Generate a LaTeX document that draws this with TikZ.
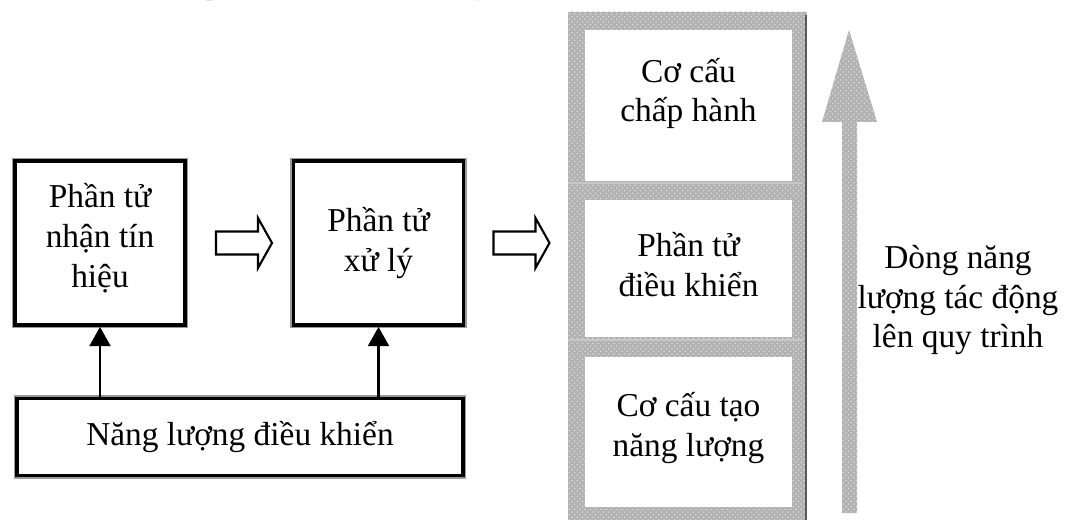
\documentclass[tikz,border=0pt]{standalone}
\usepackage{fontspec}
\setmainfont{Liberation Serif}
\usetikzlibrary{arrows.meta,positioning,calc,patterns}
\tikzset{
  blk/.style={draw=black,line width=2.2pt,preaction={draw=black!40,line width=3.6pt},
              fill=white,minimum width=3.4cm,inner sep=0pt,align=center},
  panel/.style={fill=white,draw=none,minimum width=4.14cm,inner sep=0pt},
  lbl/.style={align=center,inner sep=0pt},
  hatch/.style={fill=black!30,postaction={pattern=crosshatch dots,pattern color=white!85!black}},
  feed/.style={-{Triangle[length=11pt,width=12pt]},line width=1.2pt},
  hollow/.style={draw=black,line width=1.2pt,fill=white,line join=miter},
  sep/.style={draw=black!22,line width=1.2pt},
}

\begin{document}
\begin{tikzpicture}[x=0.02cm,y=-0.02cm,font=\fontsize{19}{22.7}\selectfont]
  \useasboundingbox (0,0) rectangle (1091,520);
  \clip (0,0) rectangle (1091,520);
  % cut-off caption line above the figure
  \node[anchor=base west,inner sep=0pt] (cap) at (20,-6)
    {\itshape c. Cơ cấu chấp hành: xilanh, động cơ dầu.};
  % left chain
  \node[blk,minimum height=3.28cm] (sens) at (100,243) {};
  \node[lbl] at (100,238) {Phần tử\\ nhận tín\\ hiệu};
  \node[blk,minimum height=3.28cm] (proc) at (378.5,243) {Phần tử\\ xử lý};
  \node[blk,minimum width=8.92cm,minimum height=1.54cm] (ctrl) at (240,437)
    {Năng lượng điều khiển};
  \foreach \b in {sens,proc}
    \draw[feed] (ctrl.north -| \b.south) -- (\b.south);
  \foreach \c in {244,521.5}{
    \begin{scope}[shift={(\c,243)}]
      \draw[hollow] (-28,-11.5) -- (14,-11.5) -- (14,-25) -- (28,0)
        -- (14,25) -- (14,11.5) -- (-28,11.5) -- cycle;
    \end{scope}}
  % right column
  \fill[hatch] (568,12) rectangle (807,530);
  \draw[black!65,line width=1.6pt] (806,15) -- (806,530);
  \draw[sep] (568,183) -- (803,183);
  \draw[sep] (568,340) -- (803,340);
  \node[panel,minimum height=3.02cm] (act) at (688.5,105.5) {};
  \node[panel,minimum height=2.74cm] (ctl) at (688.5,268.5) {};
  \node[panel,minimum height=3.0cm] (gen) at (688.5,432) {};
  \node[lbl] at ($(act.center)+(0,-12)$) {Cơ cấu\\ chấp hành};
  \node[lbl] at ($(ctl.center)+(0,-4)$) {Phần tử\\ điều khiển};
  \node[lbl] at ($(gen.center)+(0,-4)$) {Cơ cấu tạo\\ năng lượng};
  % energy flow arrow
  \fill[hatch] (849,30) -- (877,122) -- (857,122) -- (857,513) -- (842,513)
    -- (842,122) -- (822,122) -- cycle;
  \node[lbl] (flow) at (958,300) {Dòng năng\\ lượng tác động\\ lên quy trình};
\end{tikzpicture}
\end{document}
